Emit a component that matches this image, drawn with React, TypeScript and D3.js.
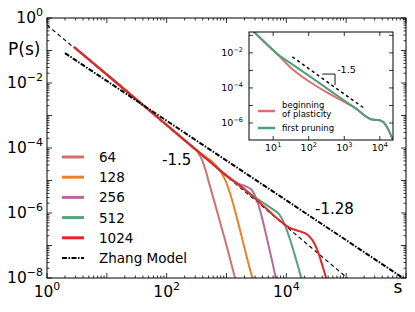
import React, { useEffect, useRef } from 'react';
import * as d3 from 'd3';

// all points are [log10(s), log10(P(s))]

// part shared by every system size
const trunk = [[0.45, -0.89], [0.8, -1.43], [1.2, -2.05], [1.6, -2.67], [2.0, -3.29], [2.3, -3.76]];

const tail64 = [[2.4, -3.91], [2.5, -4.08], [2.57, -4.28], [2.64, -4.62], [2.72, -5.15], [2.85, -6.0], [3.0, -7.0], [3.15, -8.05]];
const tail128 = [[2.5, -4.06], [2.65, -4.27], [2.76, -4.42], [2.87, -4.64], [2.97, -4.95], [3.06, -5.4], [3.16, -6.05], [3.27, -6.85], [3.38, -7.65], [3.45, -8.1]];
const tail256 = [[2.5, -4.07], [2.75, -4.46], [3.0, -4.85], [3.2, -5.1], [3.32, -5.18], [3.41, -5.27], [3.49, -5.52], [3.58, -6.05], [3.69, -6.9], [3.8, -7.8], [3.83, -8.1]];
const tail512 = [[2.5, -4.07], [2.75, -4.46], [3.0, -4.85], [3.3, -5.27], [3.5, -5.55], [3.66, -5.74], [3.77, -5.88], [3.87, -6.02], [3.96, -6.3], [4.05, -6.75], [4.15, -7.35], [4.25, -8.0], [4.28, -8.2]];
const tail1024 = [[2.5, -4.07], [2.75, -4.46], [3.0, -4.85], [3.3, -5.27], [3.65, -5.84], [3.9, -6.25], [4.05, -6.45], [4.2, -6.55], [4.32, -6.63], [4.43, -6.82], [4.52, -7.15], [4.6, -7.6], [4.68, -8.1]];

const sizeLabels = ['64', '128', '256', '512', '1024'];
const sizeTails = [tail64, tail128, tail256, tail512, tail1024];
const sizeColors = ['#d3706b', '#e6832a', '#b46a9c', '#55a37e', '#eb2227'];

const slopeLine = [[0, -0.215], [5.02, -8.0]];
const zhangLine = [[0.3, -1.08], [5.95, -8.0]];

const xTickExps = [0, 2, 4];
const yTickExps = [0, -2, -4, -6, -8];

// inset
const plasticity = [[0.45, -0.78], [0.8, -1.48], [1.14, -2.13], [1.4, -2.66], [1.62, -3.06], [2.0, -3.62], [2.55, -4.3], [3.0, -4.8], [3.31, -5.14], [3.6, -5.63], [3.75, -5.8], [3.9, -5.83], [4.0, -5.85], [4.1, -5.96], [4.22, -6.3], [4.32, -6.75], [4.4, -7.1]];
const pruning = [[0.45, -0.78], [0.8, -1.46], [1.14, -2.1], [1.6, -2.74], [2.0, -3.3], [2.5, -4.01], [3.0, -4.72], [3.3, -5.14], [3.6, -5.6], [3.75, -5.77], [3.9, -5.82], [4.0, -5.84], [4.1, -5.95], [4.22, -6.3], [4.32, -6.75], [4.4, -7.1]];
const insetSlope = [[1.54, -2.23], [3.54, -5.13]];
const insetTriangle = [[2.38, -3.21], [2.74, -3.21], [2.74, -3.83]];
const insetXTickExps = [1, 2, 3, 4];
const insetYTickExps = [-2, -4, -6];

const FONT = 'DejaVu Sans';

const isMajor = (t: number) => Math.abs(Math.log10(t) - Math.round(Math.log10(t))) < 1e-6;

function powLabel(sel: any, exp: number, supSize: number, rise: number) {
    sel.append('tspan').text('10');
    sel.append('tspan')
        .attr('dy', -rise)
        .attr('font-size', supSize)
        .text(exp < 0 ? '\u2212' + -exp : String(exp));
}

function frameTicks(g: any, x: any, y: any, xt: number[], yt: number[], major: number, minor: number) {
    const [x0, x1] = x.range();
    const [y0, y1] = y.range();
    xt.forEach((t) => {
        const len = isMajor(t) ? major : minor;
        const px = x(t);
        g.append('line').attr('x1', px).attr('x2', px).attr('y1', y0).attr('y2', y0 - len);
        g.append('line').attr('x1', px).attr('x2', px).attr('y1', y1).attr('y2', y1 + len);
    });
    yt.forEach((t) => {
        const len = isMajor(t) ? major : minor;
        const py = y(t);
        g.append('line').attr('x1', x0).attr('x2', x0 + len).attr('y1', py).attr('y2', py);
        g.append('line').attr('x1', x1).attr('x2', x1 - len).attr('y1', py).attr('y2', py);
    });
    g.selectAll('line').attr('stroke', '#000').attr('stroke-width', 0.8);
}

const App = () => {
    const ref = useRef<SVGSVGElement>(null);

    useEffect(() => {
        const svg = d3.select(ref.current);
        svg.selectAll('*').remove();

        const x = d3.scaleLog().domain([1, 1e6]).range([47, 406]);
        const y = d3.scaleLog().domain([1e-8, 1]).range([278, 18]);

        const line = d3.line<number[]>()
            .x((d) => x(10 ** d[0]))
            .y((d) => y(10 ** d[1]))
            .curve(d3.curveCatmullRom.alpha(0.5));

        svg.append('clipPath').attr('id', 'main-clip')
            .append('rect')
            .attr('x', 47).attr('y', 18).attr('width', 359).attr('height', 260);

        const plot = svg.append('g').attr('clip-path', 'url(#main-clip)');

        plot.append('path')
            .attr('d', line(slopeLine))
            .attr('fill', 'none')
            .attr('stroke', '#000')
            .attr('stroke-width', 1.1)
            .attr('stroke-dasharray', '4,3');

        sizeTails.forEach((tail, i) => {
            plot.append('path')
                .attr('d', line(trunk.concat(tail)))
                .attr('fill', 'none')
                .attr('stroke', sizeColors[i])
                .attr('stroke-width', 2);
        });

        plot.append('path')
            .attr('d', line(zhangLine))
            .attr('fill', 'none')
            .attr('stroke', '#000')
            .attr('stroke-width', 2)
            .attr('stroke-dasharray', '5,1.5,1.5,1.5');

        // frame and ticks
        svg.append('rect')
            .attr('x', 47).attr('y', 18).attr('width', 359).attr('height', 260)
            .attr('fill', 'none').attr('stroke', '#000').attr('stroke-width', 1);
        frameTicks(svg.append('g'), x, y, x.ticks(), y.ticks(), 5, 2.5);

        xTickExps.forEach((e) => {
            const t = svg.append('text')
                .attr('x', x(10 ** e)).attr('y', 297)
                .attr('text-anchor', 'middle')
                .attr('font-family', FONT).attr('font-size', 15.5);
            powLabel(t, e, 11, 7);
        });
        yTickExps.forEach((e) => {
            const t = svg.append('text')
                .attr('x', 43).attr('y', y(10 ** e) + 5)
                .attr('text-anchor', 'end')
                .attr('font-family', FONT).attr('font-size', 15.5);
            powLabel(t, e, 11, 7);
        });

        svg.append('text').attr('x', 8).attr('y', 55)
            .attr('font-family', FONT).attr('font-size', 17).text('P(s)');
        svg.append('text').attr('x', 398).attr('y', 293).attr('text-anchor', 'middle')
            .attr('font-family', FONT).attr('font-size', 17).text('s');

        svg.append('text').attr('x', 162).attr('y', 165)
            .attr('font-family', FONT).attr('font-size', 15).text('-1.5');
        svg.append('text').attr('x', 315).attr('y', 214)
            .attr('font-family', FONT).attr('font-size', 15).text('-1.28');

        // legend
        const legend = svg.append('g').attr('font-family', FONT).attr('font-size', 13.5);
        const rows = sizeLabels.concat(['Zhang Model']);
        rows.forEach((label, i) => {
            const ry = 157 + i * 20.2;
            const zhang = i === sizeLabels.length;
            legend.append('line')
                .attr('x1', 62).attr('x2', 84).attr('y1', ry).attr('y2', ry)
                .attr('stroke', zhang ? '#000' : sizeColors[i])
                .attr('stroke-width', zhang ? 2 : 3)
                .attr('stroke-dasharray', zhang ? '5,1.5,1.5,1.5' : null);
            legend.append('text').attr('x', 99).attr('y', ry + 5).text(label);
        });

        // inset
        const ix = d3.scaleLog().domain([10 ** 0.32, 10 ** 4.37]).range([249, 393]);
        const iy = d3.scaleLog().domain([10 ** -6.97, 10 ** -0.81]).range([140, 32]);
        const iline = d3.line<number[]>()
            .x((d) => ix(10 ** d[0]))
            .y((d) => iy(10 ** d[1]))
            .curve(d3.curveCatmullRom.alpha(0.5));

        svg.append('rect')
            .attr('x', 249).attr('y', 32).attr('width', 144).attr('height', 108)
            .attr('fill', '#fff');
        svg.append('clipPath').attr('id', 'inset-clip')
            .append('rect')
            .attr('x', 249).attr('y', 32).attr('width', 144).attr('height', 108);
        const inset = svg.append('g').attr('clip-path', 'url(#inset-clip)');

        inset.append('path')
            .attr('d', iline(insetSlope))
            .attr('fill', 'none').attr('stroke', '#000')
            .attr('stroke-width', 1.5).attr('stroke-dasharray', '3,3');
        inset.append('path')
            .attr('d', d3.line<number[]>().x((d) => ix(10 ** d[0])).y((d) => iy(10 ** d[1]))(insetTriangle))
            .attr('fill', 'none').attr('stroke', '#000').attr('stroke-width', 0.9);
        inset.append('path')
            .attr('d', iline(plasticity))
            .attr('fill', 'none').attr('stroke', '#d9706b').attr('stroke-width', 2);
        inset.append('path')
            .attr('d', iline(pruning))
            .attr('fill', 'none').attr('stroke', '#4fa07c').attr('stroke-width', 2);

        svg.append('rect')
            .attr('x', 249).attr('y', 32).attr('width', 144).attr('height', 108)
            .attr('fill', 'none').attr('stroke', '#000').attr('stroke-width', 1);

        const ixt = d3.range(1, 5).map((e) => 10 ** e);
        const iyt = d3.range(-6, 0).map((e) => 10 ** e);
        frameTicks(svg.append('g'), ix, iy, ixt, iyt, 4, 2);

        svg.append('text').attr('x', ix(10 ** 2.8)).attr('y', iy(10 ** -3.15))
            .attr('font-family', FONT).attr('font-size', 9.5).text('-1.5');

        insetXTickExps.forEach((e) => {
            const t = svg.append('text')
                .attr('x', ix(10 ** e)).attr('y', 151)
                .attr('text-anchor', 'middle')
                .attr('font-family', FONT).attr('font-size', 9.5);
            powLabel(t, e, 6.5, 4.5);
        });
        insetYTickExps.forEach((e) => {
            const t = svg.append('text')
                .attr('x', 243).attr('y', iy(10 ** e) + 3.5)
                .attr('text-anchor', 'end')
                .attr('font-family', FONT).attr('font-size', 9.5);
            powLabel(t, e, 6.5, 4.5);
        });

        const ileg = svg.append('g').attr('font-family', FONT).attr('font-size', 8.5);
        ileg.append('line').attr('x1', 258).attr('x2', 275).attr('y1', 111).attr('y2', 111)
            .attr('stroke', '#d9706b').attr('stroke-width', 2.5);
        ileg.append('line').attr('x1', 258).attr('x2', 275).attr('y1', 128).attr('y2', 128)
            .attr('stroke', '#4fa07c').attr('stroke-width', 2.5);
        ileg.append('text').attr('x', 282).attr('y', 108).text('beginning');
        ileg.append('text').attr('x', 282).attr('y', 117).text('of plasticity');
        ileg.append('text').attr('x', 282).attr('y', 131).text('first pruning');
    }, []);

    return (
        <svg
            ref={ref}
            width={415}
            height={312}
            style={{ position: 'absolute', left: 0, top: 0, background: '#fff' }}
        />
    );
};

export default App;
